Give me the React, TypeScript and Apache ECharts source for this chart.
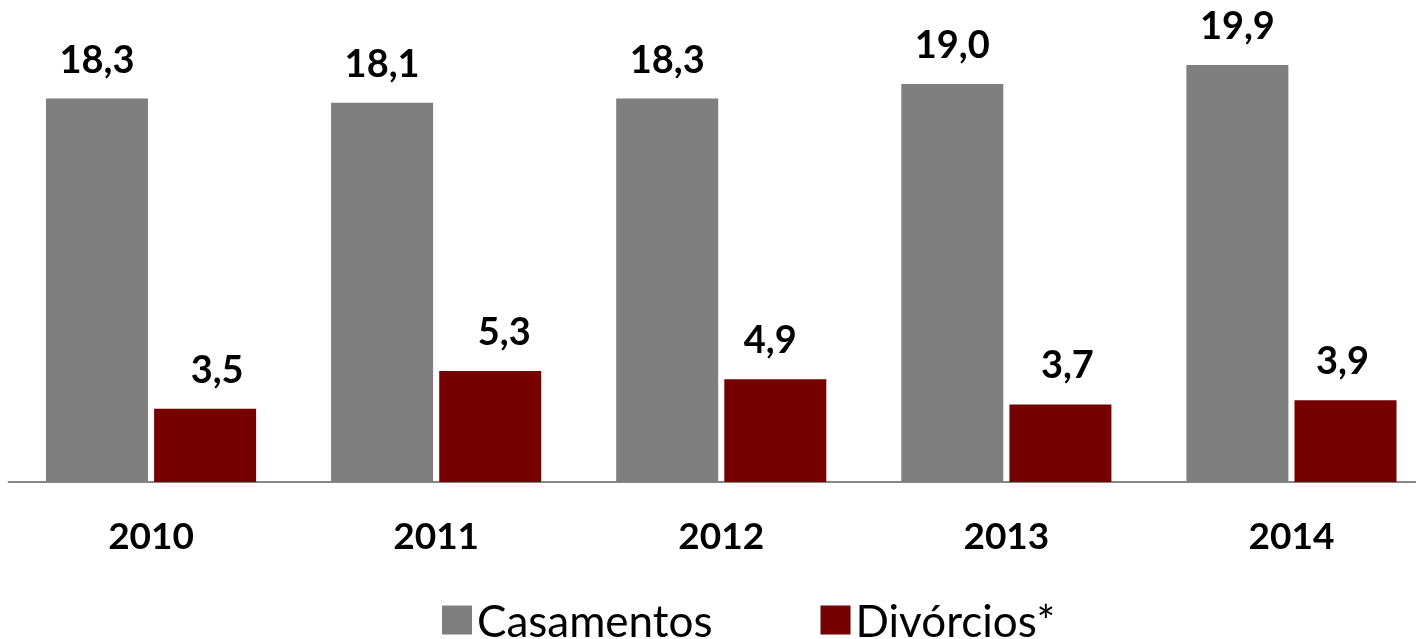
import React, { useEffect, useRef } from "react";
import * as echarts from "echarts";

const years = ["2010", "2011", "2012", "2013", "2014"];
const casamentos = [18.3, 18.1, 18.3, 19.0, 19.9];
const divorcios = [3.5, 5.3, 4.9, 3.7, 3.9];
const seriesNames = ["Casamentos", "Divórcios*"];
const divLabelShift = [12, 14, -5, 7, -3];

const fmt = (v: number) => v.toFixed(1).replace(".", ",");

export default function App() {
  const ref = useRef<HTMLDivElement>(null);
  useEffect(() => {
    if (!ref.current) return;
    const chart = echarts.init(ref.current, undefined, { renderer: "svg" });
    const labelStyle = {
      show: true,
      position: "top" as const,
      distance: 22,
      fontFamily: "Lato",
      fontWeight: "bold" as const,
      fontSize: 38,
      color: "#000",
      formatter: (p: any) => fmt(p.value),
    };
    chart.setOption({
      animation: false,
      grid: { left: 8.5, right: 0, top: 63, height: 419, containLabel: false },
      xAxis: {
        type: "category",
        data: years,
        axisLine: { show: true, lineStyle: { color: "#868686", width: 2 } },
        axisTick: { show: false },
        axisLabel: {
          margin: 34,
          fontFamily: "Lato",
          fontWeight: "bold",
          fontSize: 37,
          color: "#000",
        },
      },
      yAxis: { type: "value", min: 0, max: 20, show: false },
      legend: {
        left: 437,
        top: 593,
        itemWidth: 30,
        itemHeight: 29,
        itemGap: 108,
        icon: "rect",
        textStyle: {
          fontFamily: "Lato",
          fontSize: 44,
          lineHeight: 34,
          color: "#000",
        },
        data: seriesNames,
      },
      series: [
        {
          name: seriesNames[0],
          type: "bar",
          data: casamentos,
          barWidth: 102,
          barGap: "6%",
          itemStyle: { color: "#7f7f7f" },
          label: labelStyle,
        },
        {
          name: seriesNames[1],
          type: "bar",
          data: divorcios.map((v, i) => ({
            value: v,
            label: { offset: [divLabelShift[i], 0] },
          })),
          barWidth: 102,
          itemStyle: { color: "#760000" },
          label: labelStyle,
        },
      ],
    });
    return () => chart.dispose();
  }, []);
  return (
    <div
      ref={ref}
      style={{ position: "fixed", left: 0, top: 0, width: 1434, height: 639 }}
    />
  );
}
